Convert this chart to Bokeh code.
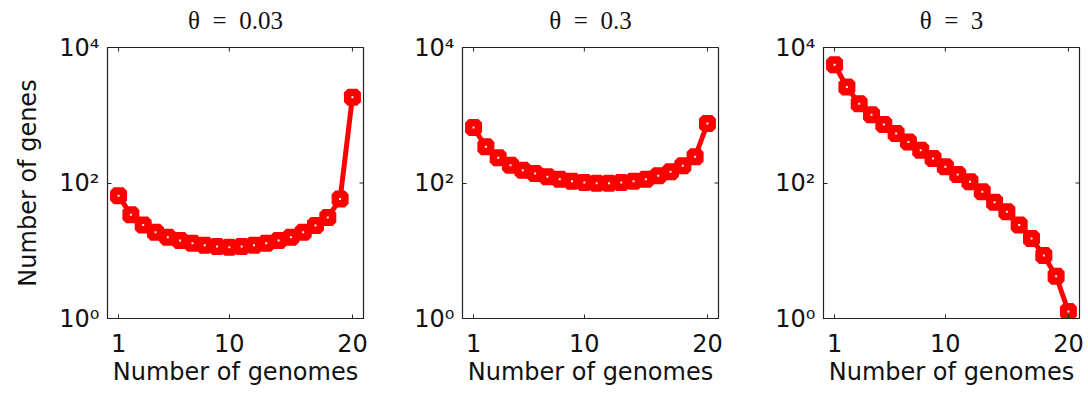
from bokeh.plotting import figure
from bokeh.layouts import row
from bokeh.models import FixedTicker
from bokeh.embed import file_html
from bokeh.resources import INLINE

# Gene frequency spectra: number of genes present in k of 20 genomes
genomes = list(range(1, 21))

genes_theta_003 = [65, 34, 24, 18.8, 15.8, 14.2, 12.9, 12.1, 11.6, 11.3,
                   11.6, 12.1, 12.9, 14.2, 15.8, 18.8, 23.6, 31, 58, 1850]
genes_theta_03 = [659, 342, 236, 183, 154, 138, 124, 114, 106, 102,
                  99, 99, 102, 106, 114, 128, 146, 180, 244, 755]
genes_theta_3 = [5560, 2610, 1483, 1020, 728, 536, 404, 304, 230, 173,
                 133, 104, 74, 52, 37.7, 24, 15.2, 8.5, 4.2, 1.27]

titles = ["θ\u2002=\u20020.03", "θ\u2002=\u20020.3", "θ\u2002=\u20023"]
x_ticks = [1, 10, 20]
x_tick_labels = {1: "1", 10: "10", 20: "20"}
y_ticks = [1, 100, 10000]
y_tick_labels = {1: "10⁰", 100: "10²", 10000: "10⁴"}

X_LO, X_HI = 0.1, 20.9
Y_LO, Y_HI = 1, 1e4
FRAME_W, FRAME_H = 256, 271
TICK_PX = 4

FONT = "DejaVu Sans"
FS = "24px"
RED = "#ff0000"
INK = "#222222"
TEXT = "#111111"


def make_panel(title, counts, left, right, show_ylabel):
    p = figure(frame_width=FRAME_W, frame_height=FRAME_H,
               y_axis_type="log", x_range=(X_LO, X_HI), y_range=(Y_LO, Y_HI),
               output_backend="svg", toolbar_location=None,
               min_border_left=left, min_border_right=right,
               min_border_top=47, min_border_bottom=76,
               background_fill_color="white", border_fill_color="white")
    # a short blank second line lifts the title a few pixels off the box
    p.title.text = title + "\n"
    p.title.text_line_height = 0.3
    p.title.align = "center"
    p.title.text_font = "Liberation Serif"
    p.title.text_font_size = "25px"
    p.title.text_font_style = "normal"
    p.title.text_color = TEXT

    p.grid.visible = False
    p.outline_line_color = INK
    p.outline_line_width = 1.2

    xa = p.xaxis[0]
    xa.ticker = FixedTicker(ticks=x_ticks)
    xa.major_label_overrides = x_tick_labels
    xa.axis_label = "Number of genomes"
    ya = p.yaxis[0]
    ya.ticker = FixedTicker(ticks=y_ticks)
    ya.major_label_overrides = y_tick_labels
    if show_ylabel:
        ya.axis_label = "Number of genes"

    for ax in (xa, ya):
        ax.major_tick_in = TICK_PX
        ax.major_tick_out = 0
        ax.minor_tick_line_color = None
        ax.axis_line_color = INK
        ax.major_tick_line_color = INK
        ax.major_label_text_font = FONT
        ax.major_label_text_font_size = FS
        ax.major_label_text_color = TEXT
        ax.axis_label_text_font = FONT
        ax.axis_label_text_font_size = FS
        ax.axis_label_text_font_style = "normal"
        ax.axis_label_text_color = TEXT
    xa.major_label_standoff = 15
    xa.axis_label_standoff = 3
    ya.major_label_standoff = 8
    ya.axis_label_standoff = 14

    # mirrored tick marks on the top and right edges of the box
    y_step = (Y_HI / Y_LO) ** (TICK_PX / FRAME_H)
    x_step = (X_HI - X_LO) * TICK_PX / FRAME_W
    p.segment(x0=x_ticks, x1=x_ticks, y0=[Y_HI] * 3, y1=[Y_HI / y_step] * 3,
              line_color=INK, line_width=1)
    p.segment(x0=[X_HI] * 3, x1=[X_HI - x_step] * 3, y0=y_ticks, y1=y_ticks,
              line_color=INK, line_width=1)

    p.line(genomes, counts, line_color=RED, line_width=5)
    p.scatter(genomes, counts, marker="square", size=9.5,
              line_color=RED, line_width=7.5, fill_color="white")
    return p


p1 = make_panel(titles[0], genes_theta_003, 107, 37, True)
p2 = make_panel(titles[1], genes_theta_03, 62, 43, False)
p3 = make_panel(titles[2], genes_theta_3, 62, 10, False)

layout = row(p1, p2, p3, spacing=0)

open("out.html", "w").write(file_html(layout, INLINE))
